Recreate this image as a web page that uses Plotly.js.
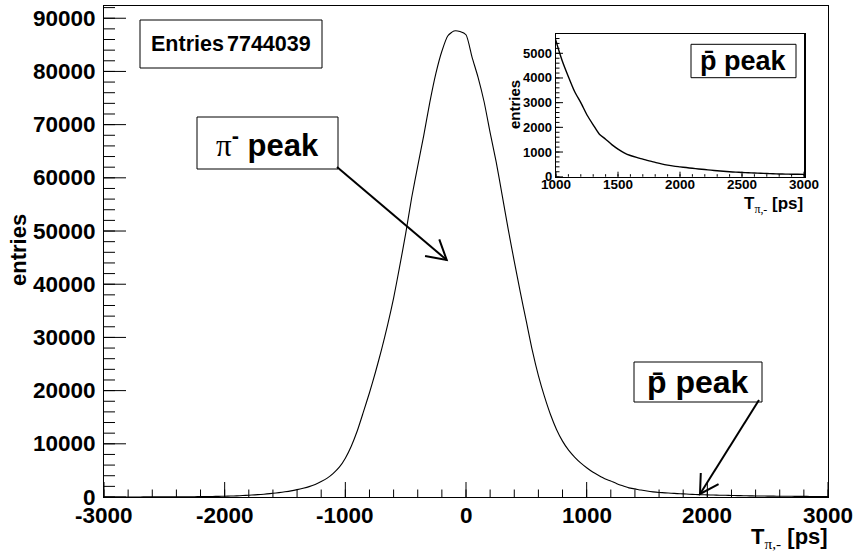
<!DOCTYPE html>
<html><head><meta charset="utf-8">
<script src="https://cdn.plot.ly/plotly-3.0.1.min.js"></script>
<style>body{margin:0;background:#fff}#chart{width:858px;height:560px}</style>
</head><body><div id="chart"></div>
<script>
// ---- data (bin centres in ps, entries per bin) ----
const binCenters = [
-3000,-2950,-2900,-2850,-2800,-2750,-2700,-2650,-2600,-2550,
-2500,-2450,-2400,-2350,-2300,-2250,-2200,-2150,-2100,-2050,
-2000,-1950,-1900,-1850,-1800,-1750,-1700,-1650,-1600,-1550,
-1500,-1450,-1400,-1350,-1300,-1250,-1200,-1150,-1100,-1050,
-1000,-950,-900,-850,-800,-750,-700,-650,-600,-550,
-500,-450,-400,-350,-300,-250,-200,-150,-100,-50,
0,
50,100,150,200,250,300,350,400,450,500,
550,600,650,700,750,800,850,900,950,1000,
1050,1100,1150,1200,1250,1300,1350,1400,1450,1500,
1550,1600,1650,1700,1750,1800,1850,1900,1950,2000,
2050,2100,2150,2200,2250,2300,2350,2400,2450,2500,
2550,2600,2650,2700,2750,2800,2850,2900,2950,3000];
const entries = [
7,8,9,10,11,12,14,16,18,20,
25,30,35,42,50,60,70,85,100,120,
150,180,220,270,330,400,480,580,700,830,
980,1150,1380,1650,1950,2350,2900,3550,4450,5600,
7300,9600,12500,16000,19600,23500,27700,32300,37400,43300,
49500,56300,62200,68000,74200,79600,83800,86700,87600,87500,
86900,
82700,78900,74300,68500,63000,56700,50300,44300,38500,33000,
27500,22800,18900,15500,12700,10500,8800,7500,6400,5500,
4700,4050,3450,3000,2500,2100,1720,1520,1300,1120,
970,860,780,710,640,580,520,470,430,400,
370,340,315,290,265,240,220,200,185,170,
160,150,140,130,120,112,105,100,97,95];

const xTickVals = [-3000,-2000,-1000,0,1000,2000,3000];
const xTickText = ['-3000','-2000','-1000','0','1000','2000','3000'];
const yTickVals = [0,10000,20000,30000,40000,50000,60000,70000,80000,90000];
const yTickText = ['0','10000','20000','30000','40000','50000','60000','70000','80000','90000'];
const insetXTickVals = [1000,1500,2000,2500,3000];
const insetXTickText = ['1000','1500','2000','2500','3000'];
const insetYTickVals = [0,1000,2000,3000,4000,5000];
const insetYTickText = ['0','1000','2000','3000','4000','5000'];
const mainXMinorStep = 200, mainYMinorStep = 2000, insetXMinorStep = 100, insetYMinorStep = 200;
const statsLabel = 'Entries';
const statsValue = '7744039';
const peakLabelPi = 'π';
const peakLabelPbar = 'p\u0304 peak';
const xTitleMain = 'T';
const xTitleSub = 'π,-';
const xTitleUnit = ' [ps]';
const yTitle = 'entries';

const mainXRange = [-3000, 3000], mainYRange = [0, 92300];
const insetXRange = [1000, 3000], insetYRange = [0, 5770];

// ---- layout helpers (pixel -> paper) ----
const L = 104, R = 828, T = 6, B = 497;
const W = R - L, H = B - T;
const px = v => (v - L) / W;
const py = v => (B - v) / H;
const FONT = 'Liberation Sans, Arial, Helvetica, sans-serif';
const SERIF = 'Liberation Serif';
const IN_L = 556, IN_R = 804, IN_T = 34.3, IN_B = 176.7;

function box(x0, y0, x1, y1) {
  return {type:'rect', xref:'paper', yref:'paper', x0:px(x0), x1:px(x1), y0:py(y1), y1:py(y0),
          line:{color:'black', width:1}, fillcolor:'white', layer:'above'};
}
function arrow(sx, sy, tx, ty, len, angDeg) {
  const dx = tx - sx, dy = ty - sy, n = Math.hypot(dx, dy);
  const ux = dx / n, uy = dy / n, a = angDeg * Math.PI / 180;
  const r1 = [ux*Math.cos(a) - uy*Math.sin(a), ux*Math.sin(a) + uy*Math.cos(a)];
  const r2 = [ux*Math.cos(a) + uy*Math.sin(a), -ux*Math.sin(a) + uy*Math.cos(a)];
  const h1 = [tx - len*r1[0], ty - len*r1[1]], h2 = [tx - len*r2[0], ty - len*r2[1]];
  return [
    {type:'line', xref:'paper', yref:'paper', x0:px(sx), y0:py(sy), x1:px(tx), y1:py(ty),
     line:{color:'black', width:2}, layer:'above'},
    {type:'path', xref:'paper', yref:'paper',
     path:`M ${px(h1[0])} ${py(h1[1])} L ${px(tx)} ${py(ty)} L ${px(h2[0])} ${py(h2[1])}`,
     line:{color:'black', width:2}, layer:'above'}
  ];
}
function ann(x, y, text, size, extra) {
  return Object.assign({xref:'paper', yref:'paper', x:px(x), y:py(y), text:text, showarrow:false,
    xanchor:'center', yanchor:'middle', font:{family:FONT, size:size, color:'black', weight:'bold'}}, extra || {});
}
const sub = s => `<sub><span style="font-family:${SERIF};font-weight:normal">${s}</span></sub>`;

// ticks drawn through the axis scales (xref/yref = axis), lengths in pixels
function xTicks(axis, vals, basePx, lenPx) {
  return vals.map(v => ({type:'line', xref:axis, yref:'paper', x0:v, x1:v,
    y0:py(basePx), y1:py(basePx - lenPx), line:{color:'black', width:1}, layer:'above'}));
}
function yTicks(axis, vals, basePx, lenPx) {
  return vals.map(v => ({type:'line', xref:'paper', yref:axis, y0:v, y1:v,
    x0:px(basePx), x1:px(basePx + lenPx), line:{color:'black', width:1}, layer:'above'}));
}
function steps(range, step) {
  const out = [];
  for (let v = Math.ceil(range[0] / step) * step; v <= range[1] + 1e-9; v += step) out.push(v);
  return out;
}
function xLabels(axis, vals, texts, yPx, size) {
  return vals.map((v, i) => ({xref:axis, yref:'paper', x:v, y:py(yPx), text:texts[i], showarrow:false,
    xanchor:'center', yanchor:'middle', font:{family:FONT, size:size, color:'black', weight:'bold'}}));
}
function yLabels(axis, vals, texts, xPx, size) {
  return vals.map((v, i) => ({xref:'paper', yref:axis, x:px(xPx), y:v, text:texts[i], showarrow:false,
    xanchor:'right', yanchor:'middle', font:{family:FONT, size:size, color:'black', weight:'bold'}}));
}

const traces = [
  {x: binCenters, y: entries, type:'scatter', mode:'lines', xaxis:'x', yaxis:'y',
   line:{color:'black', width:1.1, shape:'spline', smoothing:0.6}, hoverinfo:'skip'},
  {x: binCenters, y: entries, type:'scatter', mode:'lines', xaxis:'x2', yaxis:'y2',
   line:{color:'black', width:1.4, shape:'spline', smoothing:0.6}, hoverinfo:'skip'}
];

const axisCommon = {showline:true, linecolor:'black', linewidth:1.2, mirror:true, showgrid:false,
  zeroline:false, ticks:'', showticklabels:false};

const layout = {
  width:858, height:560, showlegend:false,
  paper_bgcolor:'white', plot_bgcolor:'white',
  margin:{l:L, r:858-R, t:T, b:560-B, pad:0},
  xaxis: Object.assign({}, axisCommon, {domain:[0,1], anchor:'y', range:mainXRange}),
  yaxis: Object.assign({}, axisCommon, {domain:[0,1], anchor:'x', range:mainYRange}),
  xaxis2: Object.assign({}, axisCommon, {domain:[px(IN_L), px(IN_R)], anchor:'y2', range:insetXRange, linewidth:1.5}),
  yaxis2: Object.assign({}, axisCommon, {domain:[py(IN_B), py(IN_T)], anchor:'x2', range:insetYRange, linewidth:1.5}),
  shapes: [
    ...xTicks('x', steps(mainXRange, mainXMinorStep), B, 7.5),
    ...xTicks('x', xTickVals, B, 15),
    ...yTicks('y', steps(mainYRange, mainYMinorStep), L, 11),
    ...yTicks('y', yTickVals, L, 22),
    ...xTicks('x2', steps(insetXRange, insetXMinorStep), IN_B, 2.5),
    ...xTicks('x2', insetXTickVals, IN_B, 5),
    ...yTicks('y2', steps(insetYRange, insetYMinorStep), IN_L, 3.5),
    ...yTicks('y2', insetYTickVals, IN_L, 7),
    box(140, 20, 322, 68),
    box(197, 117, 338, 169),
    box(634, 362, 762, 402),
    box(691, 44.3, 796, 77.7),
    ...arrow(337, 167, 446.7, 260, 22, 30),
    ...arrow(759, 400, 700, 494, 21, 30)
  ],
  annotations: [
    ...xLabels('x', xTickVals, xTickText, 515, 22.5),
    ...yLabels('y', yTickVals, yTickText, 98, 22.5),
    ...xLabels('x2', insetXTickVals, insetXTickText, 184, 13.5),
    ...yLabels('y2', insetYTickVals, insetYTickText, 554, 13),
    ann(149, 44, statsLabel, 21.5, {xanchor:'left'}),
    ann(313, 44, statsValue, 21.5, {xanchor:'right'}),
    ann(267.5, 143, `<span style="font-family:${SERIF};font-weight:normal">${peakLabelPi}</span><sup>-</sup> peak`, 31),
    ann(698, 382, peakLabelPbar, 32),
    ann(743.5, 61, peakLabelPbar, 27),
    ann(830, 538, xTitleMain + sub(xTitleSub) + xTitleUnit, 22, {xanchor:'right'}),
    ann(18, 250, yTitle, 22, {textangle:-90}),
    ann(805, 205, xTitleMain + sub(xTitleSub) + xTitleUnit, 17, {xanchor:'right'}),
    ann(515, 105, yTitle, 15, {textangle:-90})
  ]
};

Plotly.newPlot('chart', traces, layout, {staticPlot:true, displayModeBar:false});
</script>
</body></html>
